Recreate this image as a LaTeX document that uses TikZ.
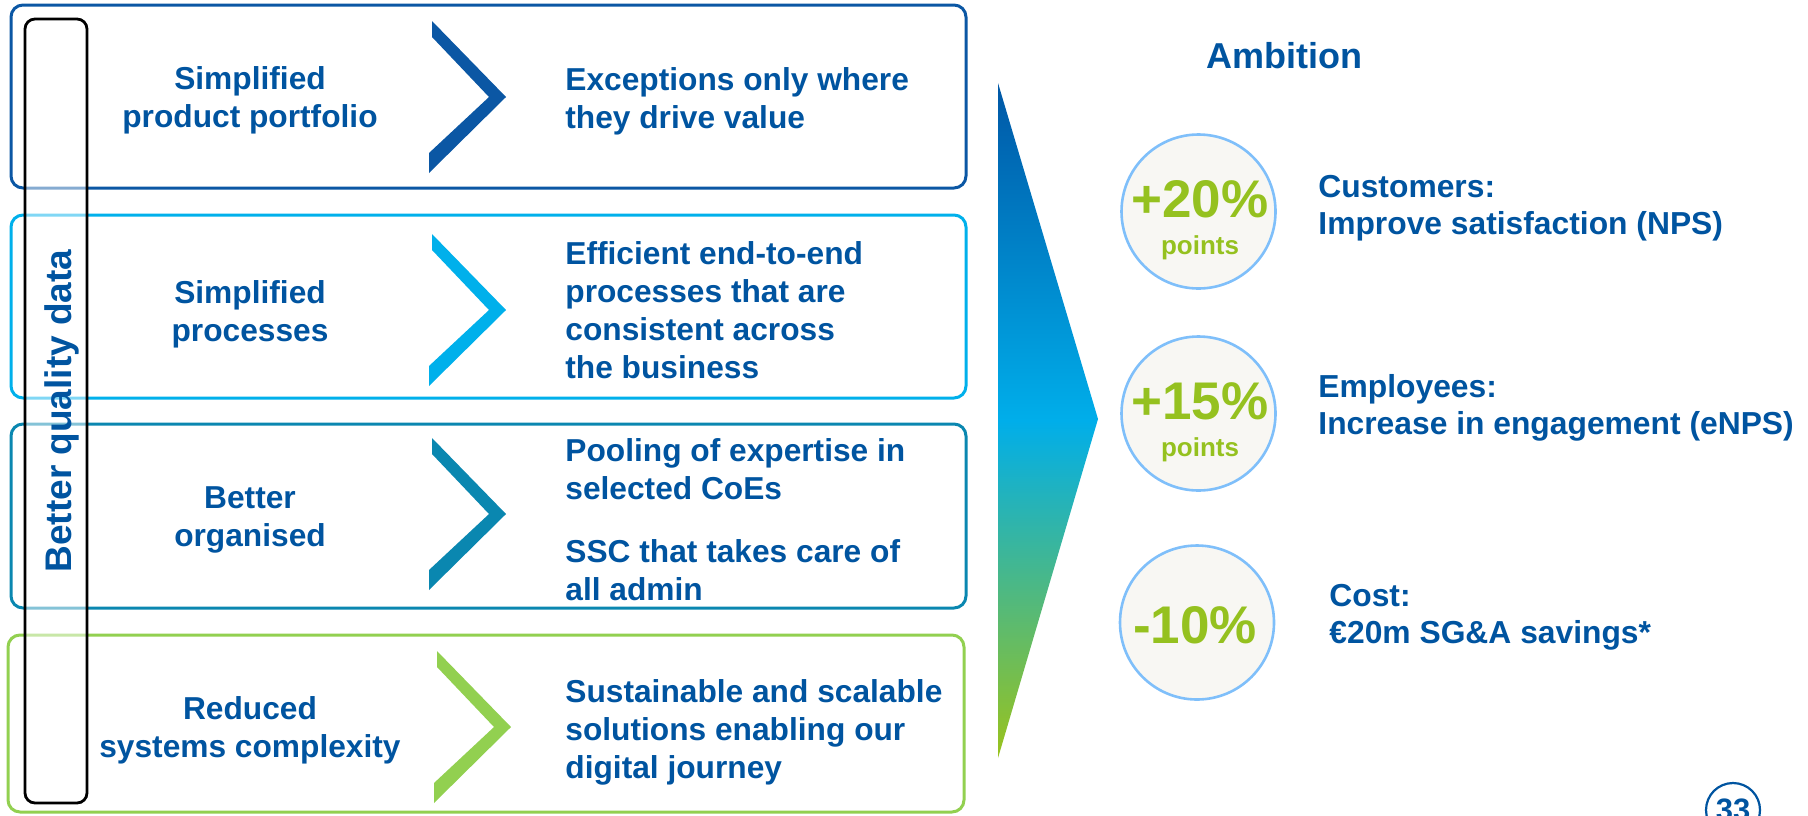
\documentclass[tikz,border=0pt]{standalone}
\usepackage{fontspec}
\setmainfont{Liberation Sans}
\definecolor{tblue}{RGB}{0,84,160}
\definecolor{cA}{RGB}{11,87,164}
\definecolor{cB}{RGB}{0,176,235}
\definecolor{cC}{RGB}{10,135,176}
\definecolor{cD}{RGB}{146,208,80}
\definecolor{gtxt}{RGB}{149,193,31}
\definecolor{cfill}{RGB}{248,247,243}
\definecolor{cline}{RGB}{127,191,250}
\definecolor{triA}{RGB}{0,87,166}
\definecolor{triB}{RGB}{0,174,234}
\definecolor{triC}{RGB}{154,195,28}
\begin{document}
\begin{tikzpicture}[x=0.5pt,y=-0.5pt,
  box/.style={line width=1.5pt, rounded corners=6pt},
  txt/.style={text=tblue, font=\bfseries\fontsize{15.85}{19}\selectfont, inner sep=0pt},
  lab/.style={text=tblue, font=\bfseries\fontsize{15.9}{18.5}\selectfont, inner sep=0pt, align=left, anchor=north west},
  circ/.style={circle, draw=cline, fill=cfill, line width=1.3pt, minimum size=77pt, inner sep=0pt},
  big/.style={text=gtxt, font=\bfseries\fontsize{26.5}{30}\selectfont, inner sep=0pt, anchor=base},
  small/.style={text=gtxt, font=\bfseries\fontsize{13}{15}\selectfont, inner sep=0pt, anchor=base}
]
\useasboundingbox (0,0) rectangle (1808,815);

% boxes
\draw[box, draw=cA] (11,5) rectangle (966,188);
\draw[box, draw=cB] (11,215) rectangle (966,398);
\draw[box, draw=cC] (11,424) rectangle (966,608);
\draw[box, draw=cD] (8,635) rectangle (964,812);

% chevrons
\foreach \cx/\cy/\cc in {432/21/cA, 432/234/cB, 432/438/cC, 437/651/cD}{
  \fill[\cc] (\cx,\cy) -- ++(74,76) -- ++(-77,76) -- ++(0,-20) -- ++(60,-56) -- ++(-57,-60) -- cycle;
}

% better quality data frame
\draw[line width=1.4pt, rounded corners=5pt, fill=white, fill opacity=0.5] (25,19) rectangle (87,803);
\node[rotate=90, anchor=base, text=tblue, inner sep=0pt, font=\bfseries\fontsize{18.5}{22}\selectfont] (bqd) at (71,411) {Better quality data};

% left texts
\node[txt, align=center, anchor=north] (l1) at (250,62.4) {\strut Simplified\\product portfolio};
\node[txt, align=center, anchor=north] (l2) at (250,276.4) {\strut Simplified\\processes};
\node[txt, align=center, anchor=north] (l3) at (250,481) {\strut Better\\organised};
\node[txt, align=center, anchor=north] (l4) at (250,692) {\strut Reduced\\systems complexity};

% right texts
\node[txt, align=left, anchor=north west] (r1) at (565,63) {\strut Exceptions only where\\they drive value};
\node[txt, align=left, anchor=north west] (r2) at (565,237) {\strut Efficient end-to-end\\processes that are\\consistent across\\the business};
\node[txt, align=left, anchor=north west] (r3) at (565,434) {\strut Pooling of expertise in\\selected CoEs\\[12.5pt]SSC that takes care of\\all admin};
\node[txt, align=left, anchor=north west] (r4) at (565,675) {\strut Sustainable and scalable\\solutions enabling our\\digital journey};

% big gradient triangle
\shade[top color=triA, bottom color=triC, middle color=triB] (998,83) -- (1098,419) -- (998,758) -- cycle;

% ambition
\node[anchor=base west, text=tblue, inner sep=0pt, font=\bfseries\fontsize{18}{22}\selectfont] (amb) at (1206,68) {Ambition};

\node[circ] (c1) at (1198.5,211.5) {};
\node[big] (v1) at (1200,217) {+20\%};
\node[small] (p1) at (1200,254) {points};
\node[lab] (t1) at (1318,171.1) {\strut Customers:\\Improve satisfaction (NPS)};

\node[circ] (c2) at (1198.5,413.5) {};
\node[big] (v2) at (1200,419) {+15\%};
\node[small] (p2) at (1200,456) {points};
\node[lab] (t2) at (1318,371.1) {\strut Employees:\\Increase in engagement (eNPS)};

\node[circ] (c3) at (1197,622.5) {};
\node[big] (v3) at (1195,643) {-10\%};
\node[lab] (t3) at (1329,580.1) {\strut Cost:\\€20m SG\&A savings*};

% page number
\node[circle, draw=tblue, line width=1.1pt, minimum size=27pt, inner sep=0pt, text=tblue, font=\bfseries\fontsize{15.5}{18}\selectfont] (pg) at (1733,810) {33};
\end{tikzpicture}
\end{document}
